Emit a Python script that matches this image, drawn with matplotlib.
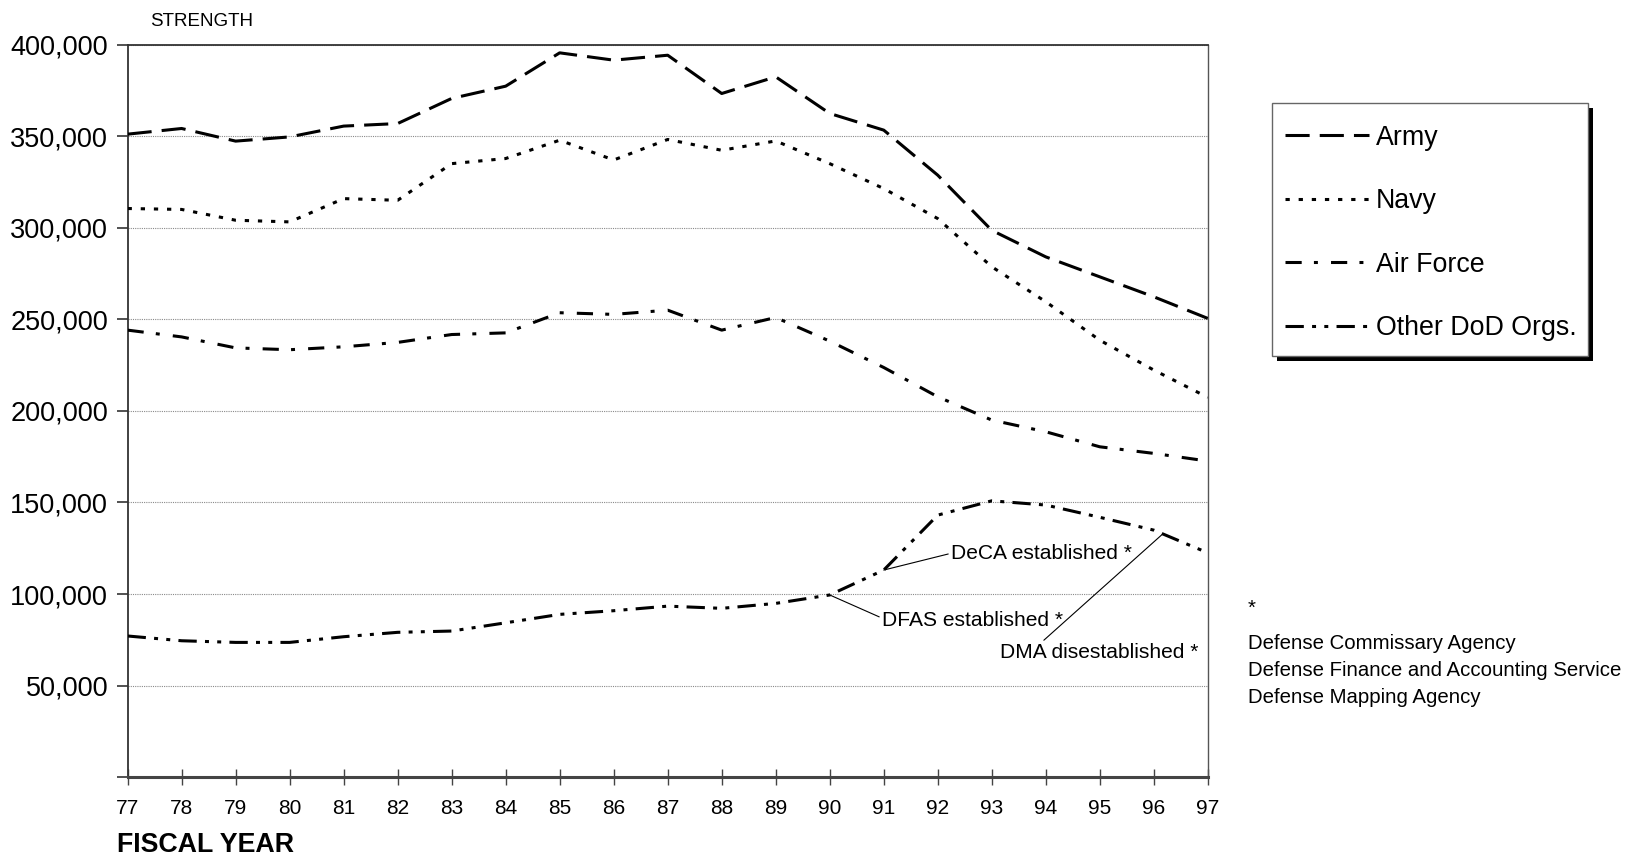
import matplotlib
matplotlib.use("Agg")
import matplotlib.pyplot as plt
from matplotlib.patches import Rectangle
from matplotlib.ticker import FuncFormatter

plt.rcParams['font.family'] = ['Liberation Sans', 'DejaVu Sans']

# ---- data ----
years = list(range(77, 98))
year_labels = [str(y) for y in years]
army = [351100, 354200, 347300, 349600, 355500, 356900, 370600, 377300, 395500, 391500,
        394200, 373300, 382400, 362400, 353300, 328700, 298600, 284100, 273200, 262300, 250500]
navy = [310500, 310000, 304100, 303200, 315900, 315000, 335000, 337800, 347800, 337000,
        348200, 342300, 347400, 335000, 321400, 305000, 278700, 259600, 238600, 222300, 207400]
air_force = [244100, 240400, 234400, 233400, 235000, 237400, 241700, 242600, 253600, 252700,
             255000, 244100, 251000, 238100, 223700, 207700, 195000, 188600, 180400, 176800, 172600]
other_dod = [77100, 74500, 73600, 73600, 76700, 79100, 79800, 84300, 88900, 90900,
             93400, 92200, 94900, 99500, 113100, 143100, 150900, 148600, 141900, 134900, 122500]
series_names = ["Army", "Navy", "Air Force", "Other DoD Orgs."]
y_ticks = [0, 50000, 100000, 150000, 200000, 250000, 300000, 350000, 400000]
footnotes = ["Defense Commissary Agency", "Defense Finance and Accounting Service",
             "Defense Mapping Agency"]

W, H = 1627, 859
fig = plt.figure(figsize=(W / 100, H / 100), dpi=100)
L, R, T, B = 127.6, 1207.8, 44.6, 777.2
ax = fig.add_axes([L / W, 1 - B / H, (R - L) / W, (B - T) / H])

lw = 2.2
styles = [
    (0, (7.9, 3.3)),
    (0, (1.4, 2.9)),
    (0, (5.3, 4.0, 1.3, 4.3)),
    (0, (6.0, 2.7, 1.3, 2.7, 1.3, 2.7)),
]
data = [army, navy, air_force, other_dod]
lines = []
for name, vals, ls in zip(series_names, data, styles):
    ln, = ax.plot(years, vals, color='black', lw=lw, linestyle=ls, label=name,
                  dash_capstyle='butt', solid_joinstyle='miter', zorder=3)
    lines.append(ln)

ax.set_xlim(77, 97)
ax.set_ylim(0, 400000)
ax.set_xticks(years)
ax.set_xticklabels(year_labels, fontsize=15)
ax.set_yticks(y_ticks)
ax.yaxis.set_major_formatter(FuncFormatter(lambda v, p: "" if v == 0 else f"{int(v):,}"))
ax.tick_params(axis='y', labelsize=19.5, length=8, width=1.2, color='#333333', pad=6,
               direction='out')
ax.tick_params(axis='x', length=12, width=1.0, color='#444444', pad=9.5, direction='inout')
ax.grid(axis='y', color='#8a8a8a', linestyle=(0, (1, 1)), lw=0.8, zorder=1)
ax.set_axisbelow(True)
for s in ['left', 'top']:
    ax.spines[s].set_color('#333333')
    ax.spines[s].set_linewidth(1.3)
ax.spines['right'].set_color('#555555')
ax.spines['right'].set_linewidth(1.0)
ax.spines['bottom'].set_color('#444444')
ax.spines['bottom'].set_linewidth(2.2)

# titles
fig.text(150.5 / W, 1 - 21.5 / H, "STRENGTH", fontsize=13.5, va='center', ha='left')
fig.text(116.7 / W, 1 - 845 / H, "FISCAL YEAR", fontsize=19.3, fontweight='bold',
         va='center', ha='left')

# annotations
ann_kw = dict(textcoords='figure pixels', fontsize=15.1, va='center', ha='left')
ax.annotate("DeCA established *", xy=(years[14], other_dod[14]), xytext=(951, H - 553.3),
            arrowprops=dict(arrowstyle='-', color='black', lw=0.8, shrinkA=0, shrinkB=0,
                            relpos=(0, 0.5)), **ann_kw)
ax.annotate("DFAS established *", xy=(years[13], other_dod[13]), xytext=(882, H - 620),
            arrowprops=dict(arrowstyle='-', color='black', lw=0.8, shrinkA=0, shrinkB=0,
                            relpos=(0, 0.6)), **ann_kw)
ax.annotate("DMA disestablished *", xy=(years[19] + 0.15, other_dod[19] - 2500),
            xytext=(1000, H - 652.5),
            arrowprops=dict(arrowstyle='-', color='black', lw=0.8, shrinkA=0, shrinkB=0,
                            relpos=(0.2, 0.95)), **ann_kw)

# footnotes
fig.text(1248 / W, 1 - 608 / H, "*", fontsize=14.7, va='center', ha='left')
for i, t in enumerate(footnotes):
    fig.text(1248 / W, 1 - (643.3 + 27 * i) / H, t, fontsize=14.7, va='center', ha='left')

# legend frame + shadow (pixel coords, origin bottom-left)
bx0, bx1, by_top, by_bot = 1271.7, 1588.3, 102.7, 355.5
shadow = Rectangle((bx0 + 5, H - by_bot - 5), bx1 - bx0, by_bot - by_top, transform=None,
                   facecolor='black', edgecolor='none', zorder=4)
frame = Rectangle((bx0, H - by_bot), bx1 - bx0, by_bot - by_top, transform=None,
                  facecolor='white', edgecolor='#666666', lw=1.0, zorder=4.5)
fig.patches.extend([shadow, frame])

leg = fig.legend(lines, series_names, loc='upper left',
                 bbox_to_anchor=(1284.5 / W, 1 - 124.6 / H), bbox_transform=fig.transFigure,
                 borderaxespad=0, frameon=False, fontsize=19.3, handlelength=3.15,
                 handletextpad=0.25, labelspacing=1.4, borderpad=0)
leg.set_zorder(6)

fig.savefig("out.png", dpi=100)
